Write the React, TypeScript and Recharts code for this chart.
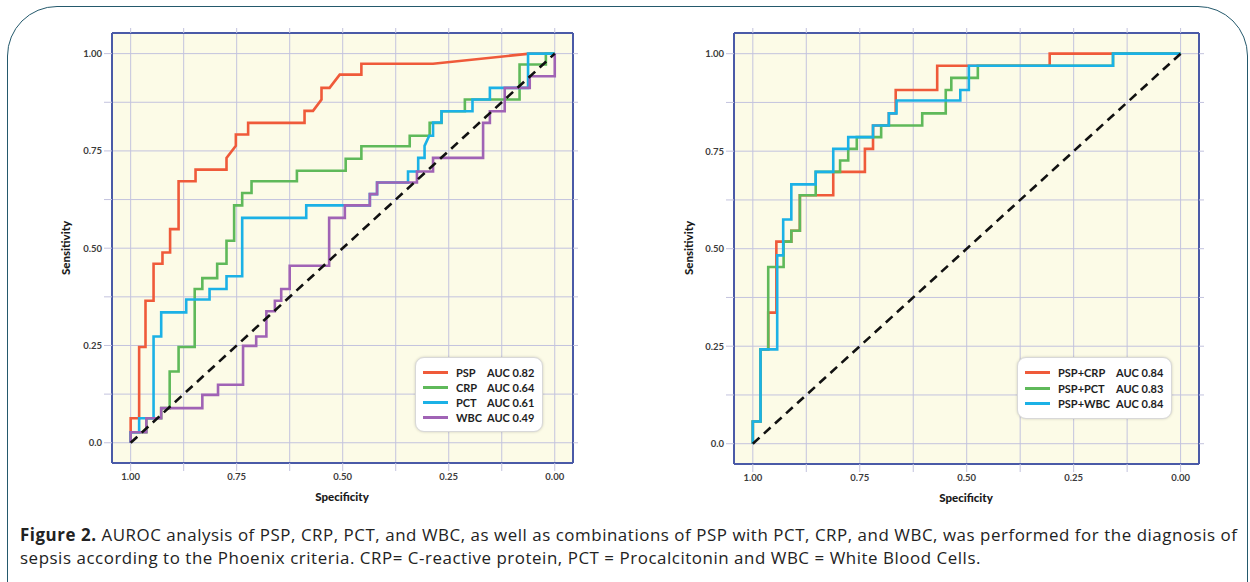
import React from 'react';
import { LineChart, Line, XAxis, YAxis, CartesianGrid } from 'recharts';

// ---------- data: [specificity, sensitivity] vertices of each ROC curve ----------
const PSP: [number, number][] = [
  [1, 0], [1, 0.063], [0.98, 0.063], [0.98, 0.246], [0.965, 0.246], [0.965, 0.365], [0.946, 0.365], [0.946, 0.46],
  [0.925, 0.46], [0.925, 0.489], [0.907, 0.489], [0.907, 0.549], [0.887, 0.549], [0.887, 0.672], [0.847, 0.672],
  [0.847, 0.702], [0.774, 0.702], [0.774, 0.732], [0.752, 0.763], [0.752, 0.792], [0.723, 0.792], [0.723, 0.822],
  [0.59, 0.822], [0.59, 0.853], [0.57, 0.853], [0.55, 0.882], [0.55, 0.912], [0.531, 0.912], [0.507, 0.946],
  [0.456, 0.946], [0.456, 0.974], [0.287, 0.974], [0.059, 1], [0, 1],
];
const CRP: [number, number][] = [
  [1, 0], [1, 0.027], [0.963, 0.027], [0.963, 0.063], [0.928, 0.063], [0.928, 0.089], [0.908, 0.089], [0.908, 0.183],
  [0.887, 0.183], [0.887, 0.246], [0.849, 0.246], [0.849, 0.395], [0.831, 0.395], [0.831, 0.423], [0.796, 0.423],
  [0.796, 0.46], [0.774, 0.46], [0.774, 0.519], [0.756, 0.519], [0.756, 0.61], [0.737, 0.61], [0.737, 0.642],
  [0.715, 0.642], [0.715, 0.672], [0.608, 0.672], [0.608, 0.699], [0.493, 0.699], [0.493, 0.73], [0.456, 0.73],
  [0.456, 0.762], [0.342, 0.762], [0.342, 0.789], [0.295, 0.789], [0.295, 0.822], [0.267, 0.822], [0.267, 0.852],
  [0.212, 0.852], [0.212, 0.882], [0.083, 0.882], [0.083, 0.972], [0.021, 0.972], [0.021, 1], [0, 1],
];
const PCT: [number, number][] = [
  [1, 0], [1, 0.027], [0.98, 0.027], [0.98, 0.063], [0.946, 0.063], [0.946, 0.273], [0.928, 0.273], [0.928, 0.335],
  [0.869, 0.335], [0.869, 0.368], [0.814, 0.368], [0.814, 0.395], [0.774, 0.395], [0.774, 0.428], [0.737, 0.428],
  [0.737, 0.578], [0.586, 0.578], [0.586, 0.61], [0.436, 0.61], [0.436, 0.639], [0.419, 0.639], [0.419, 0.669],
  [0.346, 0.669], [0.346, 0.697], [0.322, 0.697], [0.322, 0.732], [0.307, 0.732], [0.307, 0.763], [0.296, 0.789],
  [0.287, 0.789], [0.287, 0.823], [0.267, 0.823], [0.267, 0.852], [0.194, 0.852], [0.194, 0.882], [0.153, 0.882],
  [0.153, 0.912], [0.063, 0.912], [0.063, 1], [0, 1],
];
const WBC: [number, number][] = [
  [1, 0], [1, 0.027], [0.963, 0.027], [0.963, 0.063], [0.928, 0.063], [0.928, 0.089], [0.831, 0.089], [0.831, 0.123],
  [0.794, 0.123], [0.794, 0.149], [0.735, 0.149], [0.735, 0.249], [0.704, 0.249], [0.704, 0.273], [0.68, 0.273],
  [0.68, 0.338], [0.66, 0.338], [0.66, 0.365], [0.645, 0.365], [0.645, 0.395], [0.625, 0.395], [0.625, 0.455],
  [0.532, 0.455], [0.532, 0.578], [0.495, 0.578], [0.495, 0.61], [0.436, 0.61], [0.436, 0.639], [0.419, 0.639],
  [0.419, 0.669], [0.325, 0.669], [0.325, 0.697], [0.287, 0.697], [0.287, 0.732], [0.169, 0.732], [0.169, 0.822],
  [0.153, 0.822], [0.153, 0.852], [0.118, 0.852], [0.118, 0.912], [0.059, 0.912], [0.059, 0.942], [0, 0.942], [0, 1],
];
const PSP_CRP: [number, number][] = [
  [1, 0], [1, 0.057], [0.982, 0.057], [0.982, 0.242], [0.964, 0.242], [0.964, 0.336], [0.945, 0.336], [0.945, 0.518],
  [0.91, 0.518], [0.91, 0.546], [0.89, 0.546], [0.89, 0.637], [0.812, 0.637], [0.812, 0.697], [0.738, 0.697],
  [0.738, 0.756], [0.719, 0.756], [0.719, 0.816], [0.682, 0.816], [0.682, 0.847], [0.666, 0.847], [0.666, 0.907],
  [0.569, 0.907], [0.569, 0.969], [0.306, 0.969], [0.306, 1], [0, 1],
];
const PSP_PCT: [number, number][] = [
  [1, 0], [1, 0.057], [0.982, 0.057], [0.982, 0.242], [0.964, 0.242], [0.964, 0.453], [0.928, 0.453], [0.928, 0.518],
  [0.91, 0.518], [0.91, 0.546], [0.89, 0.546], [0.89, 0.637], [0.853, 0.637], [0.853, 0.697], [0.796, 0.697],
  [0.796, 0.726], [0.777, 0.726], [0.777, 0.756], [0.757, 0.756], [0.757, 0.786], [0.7, 0.786], [0.7, 0.816],
  [0.604, 0.816], [0.604, 0.847], [0.549, 0.847], [0.549, 0.907], [0.536, 0.907], [0.536, 0.938], [0.474, 0.938],
  [0.474, 0.969], [0.158, 0.969], [0.158, 1], [0, 1],
];
const PSP_WBC: [number, number][] = [
  [1, 0], [1, 0.057], [0.982, 0.057], [0.982, 0.242], [0.943, 0.242], [0.943, 0.483], [0.929, 0.483], [0.929, 0.575],
  [0.91, 0.575], [0.91, 0.665], [0.853, 0.665], [0.853, 0.697], [0.812, 0.697], [0.812, 0.756], [0.777, 0.756],
  [0.777, 0.786], [0.719, 0.786], [0.719, 0.816], [0.682, 0.816], [0.682, 0.847], [0.664, 0.847], [0.664, 0.88],
  [0.515, 0.88], [0.515, 0.907], [0.495, 0.907], [0.495, 0.969], [0.158, 0.969], [0.158, 1], [0, 1],
];
const CHANCE: [number, number][] = [[1, 0], [0, 1]];

const GRID_TICKS = [0, 0.125, 0.25, 0.375, 0.5, 0.625, 0.75, 0.875, 1];
const X_TICK_LABELS: Record<string, string> = { '1': '1.00', '0.75': '0.75', '0.5': '0.50', '0.25': '0.25', '0': '0.00' };
const Y_TICK_LABELS: Record<string, string> = { '1': '1.00', '0.75': '0.75', '0.5': '0.50', '0.25': '0.25', '0': '0.0' };

const LEFT_NAMES = ['PSP', 'CRP', 'PCT', 'WBC'];
const LEFT_AUC = ['AUC 0.82', 'AUC 0.64', 'AUC 0.61', 'AUC 0.49'];
const RIGHT_NAMES = ['PSP+CRP', 'PSP+PCT', 'PSP+WBC'];
const RIGHT_AUC = ['AUC 0.84', 'AUC 0.83', 'AUC 0.84'];

const RED = '#ef5a3a';
const GREEN = '#5fb95a';
const BLUE = '#1bb1e6';
const PURPLE = '#a063b5';

const toRows = (pts: [number, number][]) => pts.map(([spec, sens]) => ({ spec, sens }));

const GRID_COLOR = '#c3c3de';
const FRAME = '#4a5aa7';
const X_DOMAIN: [number, number] = [-0.043, 1.044];
const Y_DOMAIN: [number, number] = [-0.052, 1.053];

const tickStyle = { fontSize: 9.5, fill: '#3c3c3c', fontFamily: 'Lato', fontWeight: 700 };

type Series = { pts: [number, number][]; color: string };

function RocChart({ width, height, margin, series }: { width: number; height: number; margin: any; series: Series[] }) {
  return (
    <LineChart width={width} height={height} margin={margin}>
      <CartesianGrid stroke={GRID_COLOR} strokeWidth={1} fill="#fcfbe7" fillOpacity={1} />
      <XAxis
        dataKey="spec"
        type="number"
        domain={X_DOMAIN}
        allowDataOverflow
        reversed
        ticks={GRID_TICKS}
        interval={0}
        height={30}
        tickSize={8}
        tickMargin={2}
        axisLine={{ stroke: FRAME, strokeWidth: 2 }}
        tickLine={{ stroke: GRID_COLOR }}
        tick={tickStyle}
        tickFormatter={(v: number) => X_TICK_LABELS[String(v)] ?? ''}
      />
      <XAxis
        xAxisId="top"
        orientation="top"
        dataKey="spec"
        type="number"
        domain={X_DOMAIN}
        allowDataOverflow
        reversed
        ticks={GRID_TICKS}
        interval={0}
        height={6}
        tickSize={5}
        axisLine={{ stroke: FRAME, strokeWidth: 2 }}
        tickLine={{ stroke: GRID_COLOR }}
        tickFormatter={() => ''}
      />
      <YAxis
        type="number"
        domain={Y_DOMAIN}
        allowDataOverflow
        ticks={GRID_TICKS}
        interval={0}
        width={40}
        tickSize={8}
        tickMargin={2}
        axisLine={{ stroke: FRAME, strokeWidth: 2 }}
        tickLine={{ stroke: GRID_COLOR }}
        tick={tickStyle}
        tickFormatter={(v: number) => Y_TICK_LABELS[String(v)] ?? ''}
      />
      <YAxis
        yAxisId="right"
        orientation="right"
        type="number"
        domain={Y_DOMAIN}
        allowDataOverflow
        ticks={GRID_TICKS}
        interval={0}
        width={6}
        tickSize={5}
        axisLine={{ stroke: FRAME, strokeWidth: 2 }}
        tickLine={{ stroke: GRID_COLOR }}
        tickFormatter={() => ''}
      />
      {series.map((s, i) => (
        <Line
          key={i}
          data={toRows(s.pts)}
          dataKey="sens"
          type="linear"
          stroke={s.color}
          strokeWidth={2.6}
          dot={false}
          activeDot={false}
          isAnimationActive={false}
        />
      ))}
      <Line
        data={toRows(CHANCE)}
        dataKey="sens"
        type="linear"
        stroke="#111"
        strokeWidth={2.6}
        strokeDasharray="9 6"
        dot={false}
        activeDot={false}
        isAnimationActive={false}
      />
    </LineChart>
  );
}

function LegendBox({ left, top, width, names, aucs, colors, aucX, rowH }: any) {
  return (
    <div
      style={{
        position: 'absolute', left, top, width, background: '#fff', borderRadius: 9,
        border: '1px solid #d8d8d8', boxShadow: '0 0 3px rgba(0,0,0,0.18)', padding: '7px 0 6px 0',
        fontFamily: 'Lato', fontWeight: 700, fontSize: 11, color: '#1e1e1e', boxSizing: 'border-box',
      }}
    >
      {names.map((n: string, i: number) => (
        <div key={n} style={{ position: 'relative', height: rowH, lineHeight: rowH + 'px' }}>
          <div style={{ position: 'absolute', left: 7, top: rowH / 2 - 1.5, width: 25, height: 3, background: colors[i] }} />
          <span style={{ position: 'absolute', left: 40 }}>{n}</span>
          <span style={{ position: 'absolute', left: aucX }}>{aucs[i]}</span>
        </div>
      ))}
    </div>
  );
}

const axisTitle: React.CSSProperties = {
  position: 'absolute', fontFamily: 'Lato', fontWeight: 900, fontSize: 11.5, color: '#1a1a1a', whiteSpace: 'nowrap',
};

export default function App() {
  return (
    <div style={{ position: 'absolute', left: 0, top: 0, width: 1250, height: 582, overflow: 'hidden', background: '#fff' }}>
      <div
        style={{
          position: 'absolute', left: 7, top: 6, width: 1241, height: 700, boxSizing: 'border-box',
          border: '1.5px solid #24596c', borderRadius: '50px 50px 0 0',
        }}
      />
      <div style={{ position: 'absolute', left: 0, top: 0 }}>
        <RocChart
          width={600}
          height={520}
          margin={{ top: 27, left: 72, right: 21, bottom: 27 }}
          series={[
            { pts: PSP, color: RED },
            { pts: CRP, color: GREEN },
            { pts: PCT, color: BLUE },
            { pts: WBC, color: PURPLE },
          ]}
        />
      </div>
      <div style={{ position: 'absolute', left: 620, top: 0 }}>
        <RocChart
          width={620}
          height={520}
          margin={{ top: 27, left: 74, right: 35, bottom: 26 }}
          series={[
            { pts: PSP_CRP, color: RED },
            { pts: PSP_PCT, color: GREEN },
            { pts: PSP_WBC, color: BLUE },
          ]}
        />
      </div>

      <div style={{ ...axisTitle, left: 342, top: 496, transform: 'translate(-50%,-50%)' }}>Specificity</div>
      <div style={{ ...axisTitle, left: 966, top: 497, transform: 'translate(-50%,-50%)' }}>Specificity</div>
      <div style={{ ...axisTitle, left: 65, top: 248, transform: 'translate(-50%,-50%) rotate(-90deg)' }}>Sensitivity</div>
      <div style={{ ...axisTitle, left: 688, top: 248, transform: 'translate(-50%,-50%) rotate(-90deg)' }}>Sensitivity</div>

      <LegendBox left={415} top={357} width={128} names={LEFT_NAMES} aucs={LEFT_AUC}
        colors={[RED, GREEN, BLUE, PURPLE]} aucX={71} rowH={15} />
      <LegendBox left={1017} top={357} width={155} names={RIGHT_NAMES} aucs={RIGHT_AUC}
        colors={[RED, GREEN, BLUE]} aucX={98} rowH={15.5} />

      <div
        style={{
          position: 'absolute', left: 20, top: 522.5, fontFamily: "'Open Sans'", fontSize: 16.9, lineHeight: '23.2px',
          letterSpacing: '0.55px', color: '#222', whiteSpace: 'nowrap',
        }}
      >
        <div style={{ height: 23.2 }}><b>Figure 2.</b> AUROC analysis of PSP, CRP, PCT, and WBC, as well as combinations of PSP with PCT, CRP, and WBC, was performed for the diagnosis of</div>
        <div style={{ height: 23.2 }}>sepsis according to the Phoenix criteria. CRP= C-reactive protein, PCT = Procalcitonin and WBC = White Blood Cells.</div>
      </div>
    </div>
  );
}
